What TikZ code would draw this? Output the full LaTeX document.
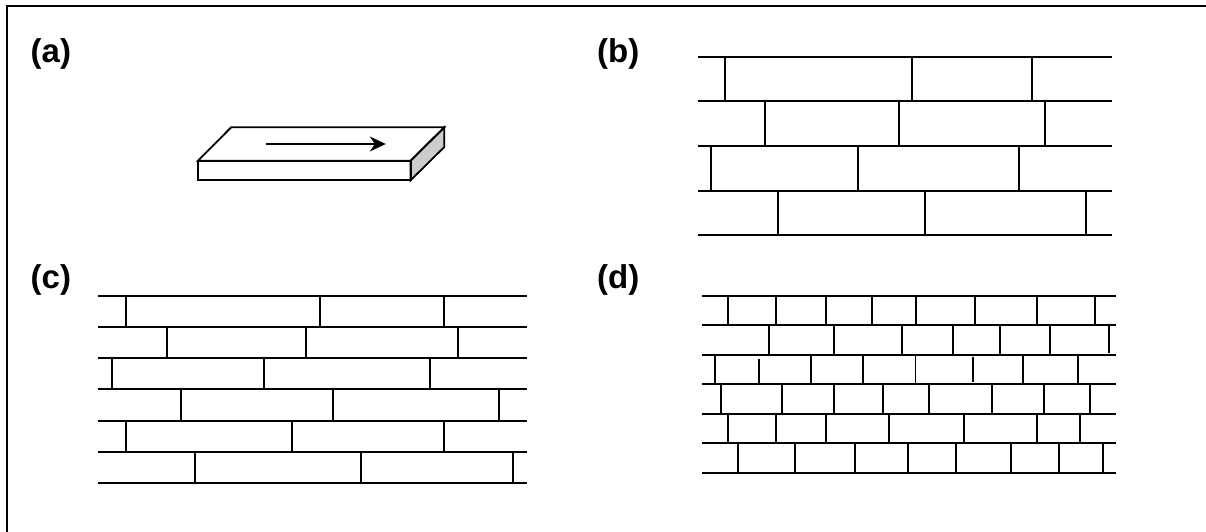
\documentclass[tikz,border=0pt]{standalone}
\usepackage{fontspec}
\setmainfont{Liberation Sans}
\usetikzlibrary{arrows.meta}
\definecolor{sidegrey}{HTML}{CCCCCC}

\begin{document}
\begin{tikzpicture}[x=1pt,y=-1pt,>={Stealth[length=16pt,width=15pt,inset=5pt]},
frame/.style={line width=2pt},
slab/.style={draw,line width=1.8pt,line join=miter},
course/.style={line width=1.8pt},
joint/.style={line width=1.8pt},
panel/.style={font=\fontsize{33}{33}\bfseries,inner sep=0pt,anchor=base west},
flow/.style={->,line width=1.8pt}]
\useasboundingbox (0,0) rectangle (1206,532);
\draw[frame] (7,532)--(7,6)--(1206,6);
\node[panel] (a) at (30.5,63) {(a)};
\node[panel] (b) at (597,63) {(b)};
\node[panel] (c) at (30.5,288) {(c)};
\node[panel] (d) at (597,288) {(d)};
% slab
\draw[slab,fill=sidegrey] (410.6,160.7)--(444.3,127.3)--(444.3,147)--(410.6,180.3)--cycle;
\draw[slab] (197.9,160.7)--(231.2,127.3)--(444.3,127.3)--(410.6,160.7)--cycle;
\draw[slab] (197.9,160.7) rectangle (410.6,180.3);
\coordinate (tail) at (266.4,144); \coordinate (head) at (385.8,144);
\draw[flow] (tail)--(head);
% wall b
\draw[course] (697.8,56.7)--(1112.2,56.7) (697.8,101)--(1112.2,101) (697.8,146)--(1112.2,146) (697.8,190.7)--(1112.2,190.7) (697.8,235.3)--(1112.2,235.3);
\draw[joint] (724.8,56.7)--(724.8,101) (911.9,56.7)--(911.9,101) (1031.8,56.7)--(1031.8,101);
\draw[joint] (764.7,101)--(764.7,146) (898.8,101)--(898.8,146) (1045.3,101)--(1045.3,146);
\draw[joint] (711.3,146)--(711.3,190.7) (858.2,146)--(858.2,190.7) (1018.6,146)--(1018.6,190.7);
\draw[joint] (778.2,190.7)--(778.2,235.3) (925.1,190.7)--(925.1,235.3) (1085.8,190.7)--(1085.8,235.3);
% wall c
\draw[course] (98.4,296)--(527,296) (98.4,327)--(527,327) (98.4,358)--(527,358) (98.4,389.3)--(527,389.3) (98.4,420.7)--(527,420.7) (98.4,451.7)--(527,451.7) (98.4,483)--(527,483);
\draw[joint] (125.9,296)--(125.9,327) (319.6,296)--(319.6,327) (443.9,296)--(443.9,327);
\draw[joint] (167.2,327)--(167.2,358) (305.8,327)--(305.8,358) (457.7,327)--(457.7,358);
\draw[joint] (112.1,358)--(112.1,389.3) (264.1,358)--(264.1,389.3) (429.8,358)--(429.8,389.3);
\draw[joint] (181,389.3)--(181,420.7) (333.3,389.3)--(333.3,420.7) (499,389.3)--(499,420.7);
\draw[joint] (125.9,420.7)--(125.9,451.7) (291.6,420.7)--(291.6,451.7) (443.9,420.7)--(443.9,451.7);
\draw[joint] (195.2,451.7)--(195.2,483) (360.9,451.7)--(360.9,483) (512.8,451.7)--(512.8,483);
% wall d
\draw[course] (702,296)--(1116.4,296) (702,325.3)--(1116.4,325.3) (702,355)--(1116.4,355) (702,384.3)--(1116.4,384.3) (702,413.7)--(1116.4,413.7) (702,443.3)--(1116.4,443.3) (702,473)--(1116.4,473);
\draw[joint] (728.3,296)--(728.3,325.3) (776.3,296)--(776.3,325.3) (825.7,296)--(825.7,325.3) (871.7,296)--(871.7,325.3) (915.8,296)--(915.8,325.3) (974.6,296)--(974.6,325.3) (1036.8,296)--(1036.8,325.3) (1094.8,296)--(1094.8,325.3);
\draw[joint] (768.8,325.3)--(768.8,355) (833.8,325.3)--(833.8,355) (902.3,325.3)--(902.3,355) (952.9,325.3)--(952.9,355) (999.7,325.3)--(999.7,355) (1049.6,325.3)--(1049.6,355) (1108.7,325.3)--(1108.7,352.7);
\draw[joint] (715.2,355)--(715.2,384.3) (758.9,358.7)--(758.9,384.3) (810.7,355)--(810.7,384.3) (862.8,355)--(862.8,384.3) (915.4,355)--(915.4,384.3) (973,356.7)--(973,382) (1022.9,355)--(1022.9,384.3) (1077.8,355)--(1077.8,384.3);
\draw[joint] (720.8,384.3)--(720.8,413.7) (782.1,384.3)--(782.1,413.7) (833.8,384.3)--(833.8,413.7) (883.3,384.3)--(883.3,413.7) (929.3,384.3)--(929.3,413.7) (992,384.3)--(992,413.7) (1043.8,384.3)--(1043.8,413.7) (1089.8,384.3)--(1089.8,413.7);
\draw[joint] (728.3,413.7)--(728.3,443.3) (776.3,413.7)--(776.3,442) (825.7,413.7)--(825.7,443.3) (888.7,413.7)--(888.7,443.3) (963.8,413.7)--(963.8,442) (1036.8,413.7)--(1036.8,443.3) (1079.7,414.7)--(1079.7,442);
\draw[joint] (738,443.3)--(738,473) (795.2,443.3)--(795.2,473) (855.1,443.3)--(855.1,473) (908.1,442)--(908.1,473) (956,443.3)--(956,473) (1011.3,443.3)--(1011.3,473) (1058.8,443.3)--(1058.8,473) (1103.3,443.3)--(1103.3,473);
\end{tikzpicture}
\end{document}
